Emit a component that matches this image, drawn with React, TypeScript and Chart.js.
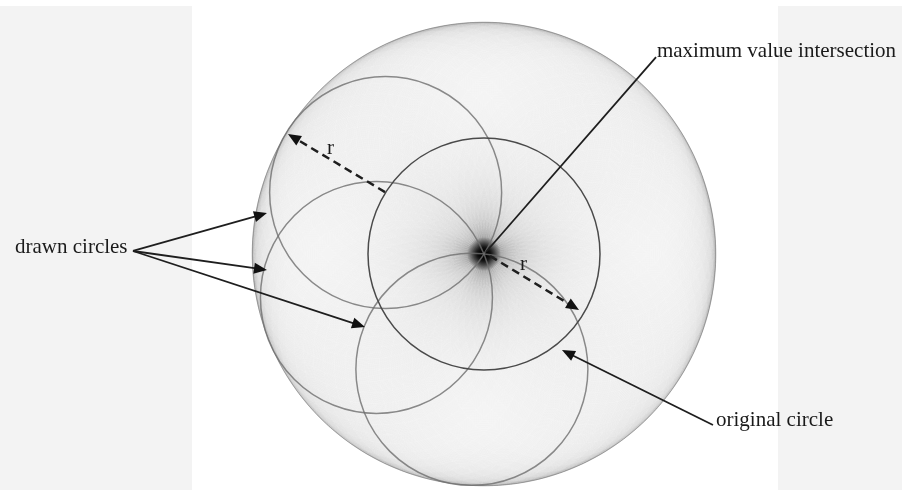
import { useEffect, useRef } from "react";
import { Chart, registerables } from "chart.js";

Chart.register(...registerables);

// ---- data (units of r; origin = centre of the original circle; y points up) ----
const originalCenter = [0, 0];
const circleRadius = 1;
// angular positions (degrees) on the original circle of the emphasised drawn circles
const highlightedAngles = [148, 202, 264];
// number of faint "voting" circles drawn around the original circle
const voteCircleCount = 1080;

// ---- annotations (text + arrows), placed in data units ----
const labelTexts = ["maximum value intersection", "drawn circles", "original circle", "r", "r"];
const labelX = [1.491, -4.043, 2.0, -1.353, 0.31];
const labelY = [1.698, 0.009, -1.483, 0.862, -0.138];

// head drawn at the "to" end
const arrowFrom = [
  [1.483, 1.698],
  [-3.026, 0.026],
  [-3.026, 0.026],
  [-3.026, 0.026],
  [1.974, -1.474],
  [-0.853, 0.534],
  [0.052, -0.017],
];
const arrowTo = [
  [0.017, 0.017],
  [-1.871, 0.353],
  [-1.871, -0.138],
  [-1.026, -0.629],
  [0.672, -0.828],
  [-1.69, 1.034],
  [0.819, -0.483],
];
const arrowHead = [false, true, true, true, true, true, true];
const arrowDashed = [false, false, false, false, false, true, true];

// grey side panels of the original figure (data units)
const bandLeft = [-4.1724, -2.517];
const bandRight = [2.534, 3.6034];
const bandTopBottom = [2.138, -2.034];

const X_MIN = -4.1724;
const X_MAX = 3.6034;
const Y_MIN = -2.0603;
const Y_MAX = 2.1897;

const deg = (a: number) => (a * Math.PI) / 180;

const diagramPlugin = {
  id: "houghDiagram",
  beforeDatasetsDraw(chart: any) {
    const ctx: CanvasRenderingContext2D = chart.ctx;
    const xs = chart.scales.x;
    const ys = chart.scales.y;
    const px = (v: number) => xs.getPixelForValue(v);
    const py = (v: number) => ys.getPixelForValue(v);
    const unit = px(1) - px(0);
    ctx.save();

    // side panels
    ctx.fillStyle = "#f3f3f3";
    for (const b of [bandLeft, bandRight]) {
      ctx.fillRect(px(b[0]), py(bandTopBottom[0]), px(b[1]) - px(b[0]), py(bandTopBottom[1]) - py(bandTopBottom[0]));
    }

    // accumulated voting circles
    ctx.lineWidth = 1;
    ctx.strokeStyle = "rgba(0,0,0,0.022)";
    for (let i = 0; i < voteCircleCount; i++) {
      const a = (2 * Math.PI * i) / voteCircleCount;
      const cx = originalCenter[0] + circleRadius * Math.cos(a);
      const cy = originalCenter[1] + circleRadius * Math.sin(a);
      ctx.beginPath();
      ctx.arc(px(cx), py(cy), circleRadius * unit, 0, Math.PI * 2);
      ctx.stroke();
    }

    // dark blob where all circles meet
    const ox = px(originalCenter[0]);
    const oy = py(originalCenter[1]);
    const g = ctx.createRadialGradient(ox, oy, 0, ox, oy, 17);
    g.addColorStop(0, "rgba(0,0,0,1)");
    g.addColorStop(0.4, "rgba(0,0,0,0.8)");
    g.addColorStop(1, "rgba(0,0,0,0)");
    ctx.fillStyle = g;
    ctx.beginPath();
    ctx.arc(ox, oy, 17, 0, Math.PI * 2);
    ctx.fill();

    // emphasised drawn circles
    const meta = chart.getDatasetMeta(0);
    ctx.strokeStyle = "rgba(110,110,110,0.8)";
    ctx.lineWidth = 1.5;
    meta.data.forEach((pt: any) => {
      ctx.beginPath();
      ctx.arc(pt.x, pt.y, circleRadius * unit, 0, Math.PI * 2);
      ctx.stroke();
    });

    // original circle
    const om = chart.getDatasetMeta(1).data[0];
    ctx.strokeStyle = "#4a4a4a";
    ctx.lineWidth = 1.5;
    ctx.beginPath();
    ctx.arc(om.x, om.y, circleRadius * unit, 0, Math.PI * 2);
    ctx.stroke();
    ctx.restore();
  },
  afterDatasetsDraw(chart: any) {
    const ctx: CanvasRenderingContext2D = chart.ctx;
    const xs = chart.scales.x;
    const ys = chart.scales.y;
    const px = (v: number) => xs.getPixelForValue(v);
    const py = (v: number) => ys.getPixelForValue(v);
    ctx.save();

    // arrows
    for (let i = 0; i < arrowFrom.length; i++) {
      const x1 = px(arrowFrom[i][0]);
      const y1 = py(arrowFrom[i][1]);
      const x2 = px(arrowTo[i][0]);
      const y2 = py(arrowTo[i][1]);
      const ang = Math.atan2(y2 - y1, x2 - x1);
      const headLen = 13;
      const headW = 5.5;
      const ex = arrowHead[i] ? x2 - Math.cos(ang) * (headLen - 2) : x2;
      const ey = arrowHead[i] ? y2 - Math.sin(ang) * (headLen - 2) : y2;
      ctx.strokeStyle = "#1e1e1e";
      ctx.lineWidth = arrowDashed[i] ? 2.5 : 1.8;
      ctx.setLineDash(arrowDashed[i] ? [8, 5] : []);
      ctx.beginPath();
      ctx.moveTo(x1, y1);
      ctx.lineTo(ex, ey);
      ctx.stroke();
      ctx.setLineDash([]);
      if (arrowHead[i]) {
        const bx = x2 - Math.cos(ang) * headLen;
        const by = y2 - Math.sin(ang) * headLen;
        ctx.fillStyle = "#111";
        ctx.beginPath();
        ctx.moveTo(x2, y2);
        ctx.lineTo(bx + Math.sin(ang) * headW, by - Math.cos(ang) * headW);
        ctx.lineTo(bx - Math.sin(ang) * headW, by + Math.cos(ang) * headW);
        ctx.closePath();
        ctx.fill();
      }
    }

    // labels
    ctx.fillStyle = "#1a1a1a";
    ctx.font = '21px "Liberation Serif", "Times New Roman", serif';
    ctx.textBaseline = "alphabetic";
    ctx.textAlign = "left";
    for (let i = 0; i < labelTexts.length; i++) {
      ctx.fillText(labelTexts[i], px(labelX[i]), py(labelY[i]));
    }
    ctx.restore();
  },
};

export default function App() {
  const canvasRef = useRef<HTMLCanvasElement | null>(null);

  useEffect(() => {
    if (!canvasRef.current) return;
    const chart = new Chart(canvasRef.current, {
      type: "scatter",
      data: {
        datasets: [
          {
            label: "drawn circles",
            data: highlightedAngles.map((a) => ({
              x: originalCenter[0] + circleRadius * Math.cos(deg(a)),
              y: originalCenter[1] + circleRadius * Math.sin(deg(a)),
            })),
            pointRadius: 0,
          },
          {
            label: "original circle",
            data: [{ x: originalCenter[0], y: originalCenter[1] }],
            pointRadius: 0,
          },
        ],
      },
      options: {
        animation: false,
        responsive: false,
        devicePixelRatio: 1,
        events: [],
        layout: { padding: 0 },
        plugins: { legend: { display: false }, tooltip: { enabled: false }, title: { display: false } },
        scales: {
          x: { type: "linear", min: X_MIN, max: X_MAX, display: false },
          y: { type: "linear", min: Y_MIN, max: Y_MAX, display: false },
        },
      },
      plugins: [diagramPlugin],
    });
    return () => chart.destroy();
  }, []);

  return (
    <div style={{ position: "fixed", left: 0, top: 0, width: 902, height: 493, background: "#ffffff" }}>
      <canvas ref={canvasRef} width={902} height={493} style={{ display: "block", width: 902, height: 493 }} />
    </div>
  );
}
